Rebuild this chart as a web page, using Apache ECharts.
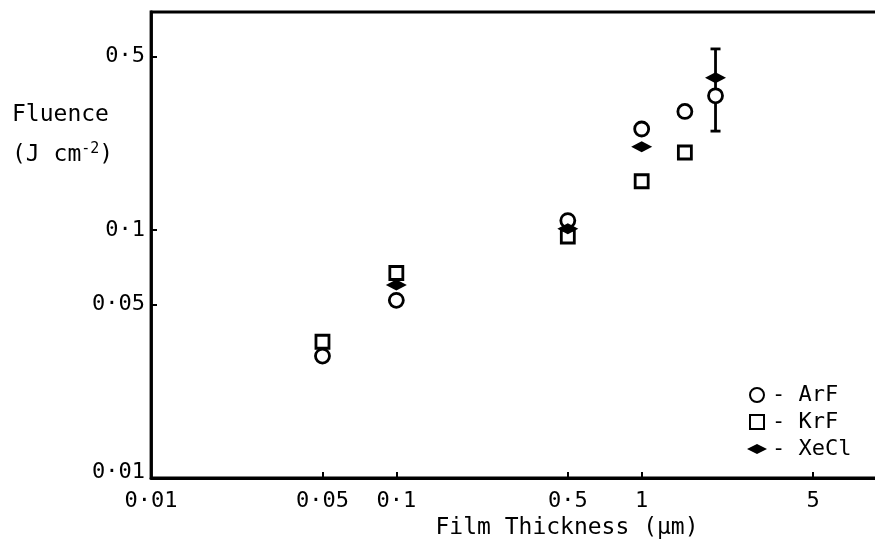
<!DOCTYPE html>
<html>
<head>
<meta charset="utf-8">
<script src="https://cdn.jsdelivr.net/npm/echarts@6/dist/echarts.min.js"></script>
<style>
  html, body { margin: 0; padding: 0; background: #fff; }
  #chart { width: 875px; height: 550px; }
</style>
</head>
<body>
<div id="chart"></div>
<script>
// Film thickness (µm) and threshold fluence (J cm^-2) for three excimer lasers
const arfThickness = [0.05, 0.1, 0.5, 1, 1.5, 2];
const arfFluence   = [0.031, 0.052, 0.109, 0.255, 0.30, 0.347];

const krfThickness = [0.05, 0.1, 0.5, 1, 1.5];
const krfFluence   = [0.0354, 0.067, 0.094, 0.157, 0.205];

const xeclThickness = [0.1, 0.5, 1, 2];
const xeclFluence   = [0.060, 0.101, 0.216, 0.41];

// XeCl spread at 2 µm: [thickness, low, high]
const xeclRange = [[2, 0.25, 0.536]];

// Axis ticks and their printed labels
const xTickValues = [0.01, 0.05, 0.1, 0.5, 1, 5];
const xTickLabels = ['0·01', '0·05', '0·1', '0·5', '1', '5'];
const yTickValues = [0.01, 0.05, 0.1, 0.5];
const yTickLabels = ['0·01', '0·05', '0·1', '0·5'];

const FONT = 'DejaVu Sans Mono';
const DIAMOND = 'path://M0,5 L10,0 L20,5 L10,10 Z';
const SQUARE = 'path://M0,0 L10,0 L10,10 L0,10 Z';

function zip(xs, ys) { return xs.map((x, i) => [x, ys[i]]); }
function labelFor(values, labels, v) {
  for (let i = 0; i < values.length; i++) {
    if (Math.abs(values[i] - v) / values[i] < 1e-6) return labels[i];
  }
  return '';
}

const chart = echarts.init(document.getElementById('chart'), null, { renderer: 'canvas' });

const openMarker = { color: '#fff', borderColor: '#000', borderWidth: 2.8, opacity: 1 };

chart.setOption({
  animation: false,
  backgroundColor: '#fff',
  grid: {
    left: 151, right: -12, top: 12, bottom: 72,
    outerBoundsMode: 'none',
    show: true, borderColor: '#000', borderWidth: 2.8, backgroundColor: 'transparent'
  },
  xAxis: {
    type: 'log', logBase: 10, min: 0.01, max: 10,
    name: 'Film Thickness (µm)',
    nameLocation: 'middle', nameGap: 36,
    nameTextStyle: { fontFamily: FONT, fontSize: 23, color: '#000', padding: [0, 0, 0, 96] },
    axisLine: { show: true, lineStyle: { color: '#000', width: 2.8 } },
    axisTick: { show: true, inside: true, length: 6, lineStyle: { color: '#000', width: 2 }, customValues: xTickValues },
    axisLabel: {
      customValues: xTickValues, margin: 12,
      fontFamily: FONT, fontSize: 22, color: '#000',
      formatter: v => labelFor(xTickValues, xTickLabels, v)
    },
    splitLine: { show: false }, minorTick: { show: false }
  },
  yAxis: {
    type: 'log', logBase: 10, min: 0.01, max: 0.755,
    axisLine: { show: true, lineStyle: { color: '#000', width: 2.8 } },
    axisTick: { show: true, inside: true, length: 6, lineStyle: { color: '#000', width: 2 }, customValues: yTickValues },
    axisLabel: {
      customValues: yTickValues, margin: 6,
      fontFamily: FONT, fontSize: 22, color: '#000',
      formatter: v => {
        const s = labelFor(yTickValues, yTickLabels, v);
        return Math.abs(v - 0.01) < 1e-9 ? '{lo|' + s + '}' : s;
      },
      rich: { lo: { fontFamily: FONT, fontSize: 22, color: '#000', padding: [0, 0, 12, 0] } }
    },
    splitLine: { show: false }, minorTick: { show: false }
  },
  legend: {
    orient: 'vertical', left: 747, top: 384, padding: 0,
    itemWidth: 20, itemHeight: 14, itemGap: 5,
    textStyle: { fontFamily: FONT, fontSize: 22, color: '#000' },
    formatter: name => '- ' + name,
    data: [
      { name: 'ArF', icon: 'circle' },
      { name: 'KrF', icon: SQUARE },
      { name: 'XeCl', icon: DIAMOND }
    ]
  },
  graphic: [
    {
      type: 'text', left: 12, top: 104,
      style: { text: 'Fluence', fontFamily: FONT, fontSize: 23, fill: '#000' }
    },
    {
      type: 'text', left: 12, top: 142,
      style: {
        text: '(J cm{sup|-2})', fontFamily: FONT, fontSize: 23, fill: '#000',
        rich: { sup: { fontFamily: FONT, fontSize: 15, fill: '#000', padding: [0, 0, 12, 0] } }
      }
    }
  ],
  series: [
    {
      name: 'ArF', type: 'scatter', symbol: 'circle', symbolSize: 14,
      itemStyle: openMarker, data: zip(arfThickness, arfFluence)
    },
    {
      name: 'KrF', type: 'scatter', symbol: SQUARE, symbolSize: 13, symbolKeepAspect: true,
      itemStyle: openMarker, data: zip(krfThickness, krfFluence)
    },
    {
      name: 'XeCl range', type: 'custom',
      encode: { x: 0, y: [1, 2] },
      data: xeclRange,
      renderItem: (params, api) => {
        const x = api.value(0);
        const lo = api.coord([x, api.value(1)]);
        const hi = api.coord([x, api.value(2)]);
        const cap = 5;
        const style = { stroke: '#000', lineWidth: 2.8 };
        return {
          type: 'group',
          children: [
            { type: 'line', shape: { x1: lo[0], y1: lo[1], x2: hi[0], y2: hi[1] }, style },
            { type: 'line', shape: { x1: hi[0] - cap, y1: hi[1], x2: hi[0] + cap, y2: hi[1] }, style },
            { type: 'line', shape: { x1: lo[0] - cap, y1: lo[1], x2: lo[0] + cap, y2: lo[1] }, style }
          ]
        };
      }
    },
    {
      name: 'XeCl', type: 'scatter', symbol: DIAMOND, symbolSize: [21, 11],
      itemStyle: { color: '#000', opacity: 1 }, data: zip(xeclThickness, xeclFluence)
    }
  ]
});
</script>
</body>
</html>
